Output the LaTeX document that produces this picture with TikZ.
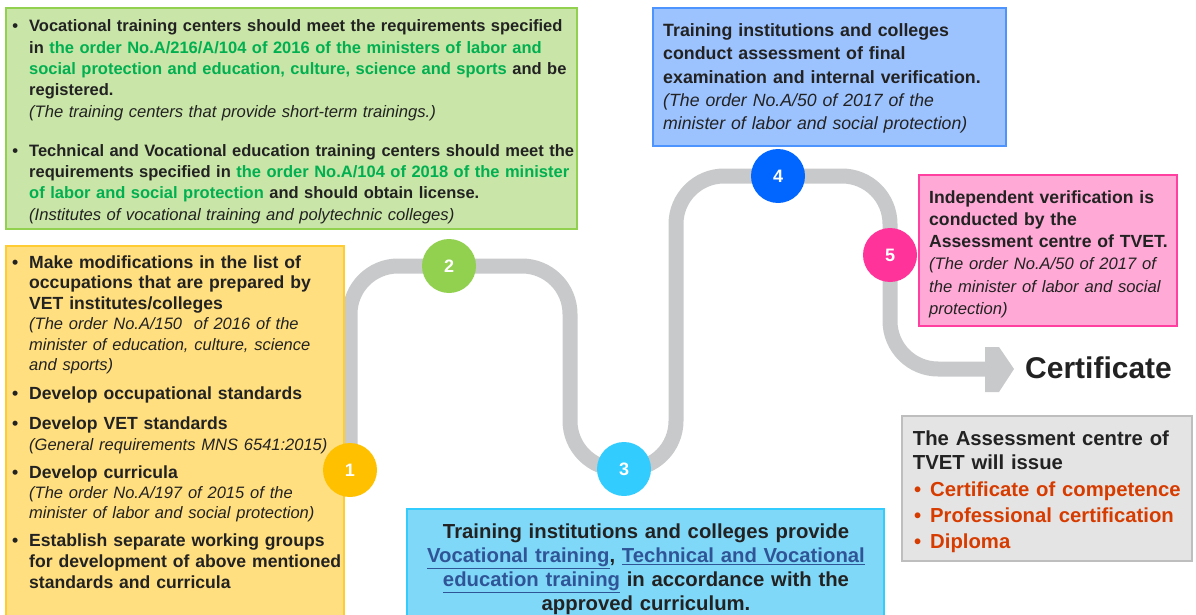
\documentclass[tikz,border=0pt]{standalone}
\usepackage{fontspec}
\setmainfont{Liberation Sans}
\usepackage{tikz}
\usetikzlibrary{backgrounds}

\definecolor{inktext}{RGB}{34,34,34}
\definecolor{roadgray}{RGB}{200,201,203}
\definecolor{greenfill}{RGB}{201,229,167}
\definecolor{greenedge}{RGB}{146,208,80}
\definecolor{yellowfill}{RGB}{255,223,128}
\definecolor{yellowedge}{RGB}{255,204,51}
\definecolor{bluefill}{RGB}{157,195,255}
\definecolor{blueedge}{RGB}{77,148,255}
\definecolor{pinkfill}{RGB}{255,170,214}
\definecolor{pinkedge}{RGB}{255,64,160}
\definecolor{greyfill}{RGB}{228,228,228}
\definecolor{greyedge}{RGB}{190,190,190}
\definecolor{skyfill}{RGB}{128,216,248}
\definecolor{skyedge}{RGB}{51,204,255}
\definecolor{ordergreen}{RGB}{0,176,80}
\definecolor{linkblue}{RGB}{47,85,151}
\definecolor{issuered}{RGB}{214,59,0}
\definecolor{stopone}{RGB}{255,192,0}
\definecolor{stoptwo}{RGB}{146,208,80}
\definecolor{stopthree}{RGB}{51,204,255}
\definecolor{stopfour}{RGB}{0,102,255}
\definecolor{stopfive}{RGB}{255,51,153}

\newcommand{\grn}[1]{\textcolor{ordergreen}{#1}}
\newcommand{\lnk}[1]{\textcolor{linkblue}{\underline{#1}}}
\newcommand{\bul}{\leavevmode\llap{\textbullet\hspace{11pt}}}
\newcommand{\redbul}{\leavevmode\llap{\textbullet\hspace{9pt}}}
\newcommand{\note}[2][16.6]{{\mdseries\itshape\fontsize{#1}{\baselineskip}\selectfont #2}}

\begin{document}
\begin{tikzpicture}[x=1pt, y=-1pt,
	box/.style={line width=1.2pt},
	item/.style={anchor=base west, inner sep=0pt, text width=600pt, align=left, text=inktext},
	stop/.style={circle, minimum size=54pt, inner sep=0pt, text=white, font=\bfseries\fontsize{18}{18}\selectfont},
	road/.style={line width=15pt, draw=roadgray, rounded corners=48pt}]
	\useasboundingbox (0,0) rectangle (1196,615);

	% boxes
	\draw [box, draw=greenedge, fill=greenfill] (6,8) rectangle (577,229);
	\draw [box, draw=yellowedge, fill=yellowfill] (6,246) rectangle (344,625);
	\draw [box, draw=blueedge, fill=bluefill] (653,8) rectangle (1006,146);
	\draw [box, draw=pinkedge, fill=pinkfill] (919,175) rectangle (1177,326);
	\draw [box, draw=greyedge, fill=greyfill] (902,416) rectangle (1192,561);
	\draw [box, draw=skyedge, fill=skyfill] (407,509) rectangle (884,625);

	% green box
	\node [item, font=\bfseries\fontsize{16.5}{21.4}\selectfont] (regshort) at (29,31.7) {\bul Vocational training centers should meet the requirements specified\\
		in \grn{the order No.A/216/A/104 of 2016 of the ministers of labor and}\\
		\grn{social protection and education, culture, science and sports} and be\\
		registered.\\
		\note{(The training centers that provide short-term trainings.)}};
	\node [item, font=\bfseries\fontsize{16.5}{21.4}\selectfont] (reglicense) at (29,156) {\bul Technical and Vocational education training centers should meet the\\
		requirements specified in \grn{the order No.A/104 of 2018 of the minister}\\
		\grn{of labor and social protection} and should obtain license.\\
		\note{(Institutes of vocational training and polytechnic colleges)}};

	% yellow box
	\node [item, font=\bfseries\fontsize{17.6}{20.5}\selectfont] (occlist) at (29,268.3) {\bul Make modifications in the list of\\
		occupations that are prepared by\\
		VET institutes/colleges\\
		\note[16.5]{(The order No.A/150~ of 2016 of the\\
		minister of education, culture, science\\
		and sports)}};
	\node [item, font=\bfseries\fontsize{17.6}{20.5}\selectfont] (occstd) at (29,399.3) {\bul Develop occupational standards};
	\node [item, font=\bfseries\fontsize{17.6}{20.7}\selectfont] (vetstd) at (29,429.3) {\bul Develop VET standards\\
		\note[16.5]{(General requirements MNS 6541:2015)}};
	\node [item, font=\bfseries\fontsize{17.6}{20}\selectfont] (curric) at (29,478.3) {\bul Develop curricula\\
		\note[16.5]{(The order No.A/197 of 2015 of the\\
		minister of labor and social protection)}};
	\node [item, font=\bfseries\fontsize{17.6}{20.8}\selectfont] (groups) at (29,546.7) {\bul Establish separate working groups\\
		for development of above mentioned\\
		standards and curricula};

	% top blue box
	\node [item, font=\bfseries\fontsize{17.8}{23.2}\selectfont] (assess) at (663,36.7) {Training institutions and colleges\\
		conduct assessment of final\\
		examination and internal verification.\\
		\note[17.7]{(The order No.A/50 of 2017 of the\\
		minister of labor and social protection)}};

	% pink box
	\node [item, font=\bfseries\fontsize{17.6}{22.2}\selectfont] (verify) at (929,203.3) {Independent verification is\\
		conducted by the\\
		Assessment centre of TVET.\\
		\note[16.6]{(The order No.A/50 of 2017 of\\
		the minister of labor and social\\
		protection)}};

	% bottom blue box
	\node [anchor=base, inner sep=0pt, text width=470pt, align=center, text=inktext, font=\bfseries\fontsize{20.3}{24}\selectfont] (provide) at (646,538.3) {Training institutions and colleges provide\\
		\lnk{Vocational training}, \lnk{Technical and Vocational}\\
		\lnk{education training} in accordance with the\\
		approved curriculum.};

	% grey box
	\node [item, font=\bfseries\fontsize{20.3}{24.3}\selectfont] (issue) at (912.7,445) {The Assessment centre of\\
		TVET will issue};
	\node [item, text=issuered, font=\bfseries\fontsize{20.3}{26.2}\selectfont] (awards) at (930,496) {\redbul Certificate of competence\\
		\redbul Professional certification\\
		\redbul Diploma};

	\node [anchor=base west, inner sep=0pt, text=inktext, font=\bfseries\fontsize{30}{36}\selectfont] (cert) at (1025,378.3) {Certificate};

	% numbered stops
	\foreach \x/\y/\n/\col in {
		350/470/1/stopone,
		449/266/2/stoptwo,
		624/469/3/stopthree,
		778/176/4/stopfour,
		890/255/5/stopfive}
	{
		\node [stop, fill=\col] (s\n) at (\x,\y) {\n};
	}

	\coordinate (tip) at (986,369);
	\begin{scope}[on background layer]
		\draw [road] (s1.center) |- (s2.center) -| (570,469) -- (676,469) |- (s4.center) -| (890,369) -- (tip);
		\fill [roadgray, shift={(tip)}] (-1,-22) -- (13,-22) -- (28,0) -- (13,23) -- (-1,23) -- cycle;
	\end{scope}
\end{tikzpicture}
\end{document}
